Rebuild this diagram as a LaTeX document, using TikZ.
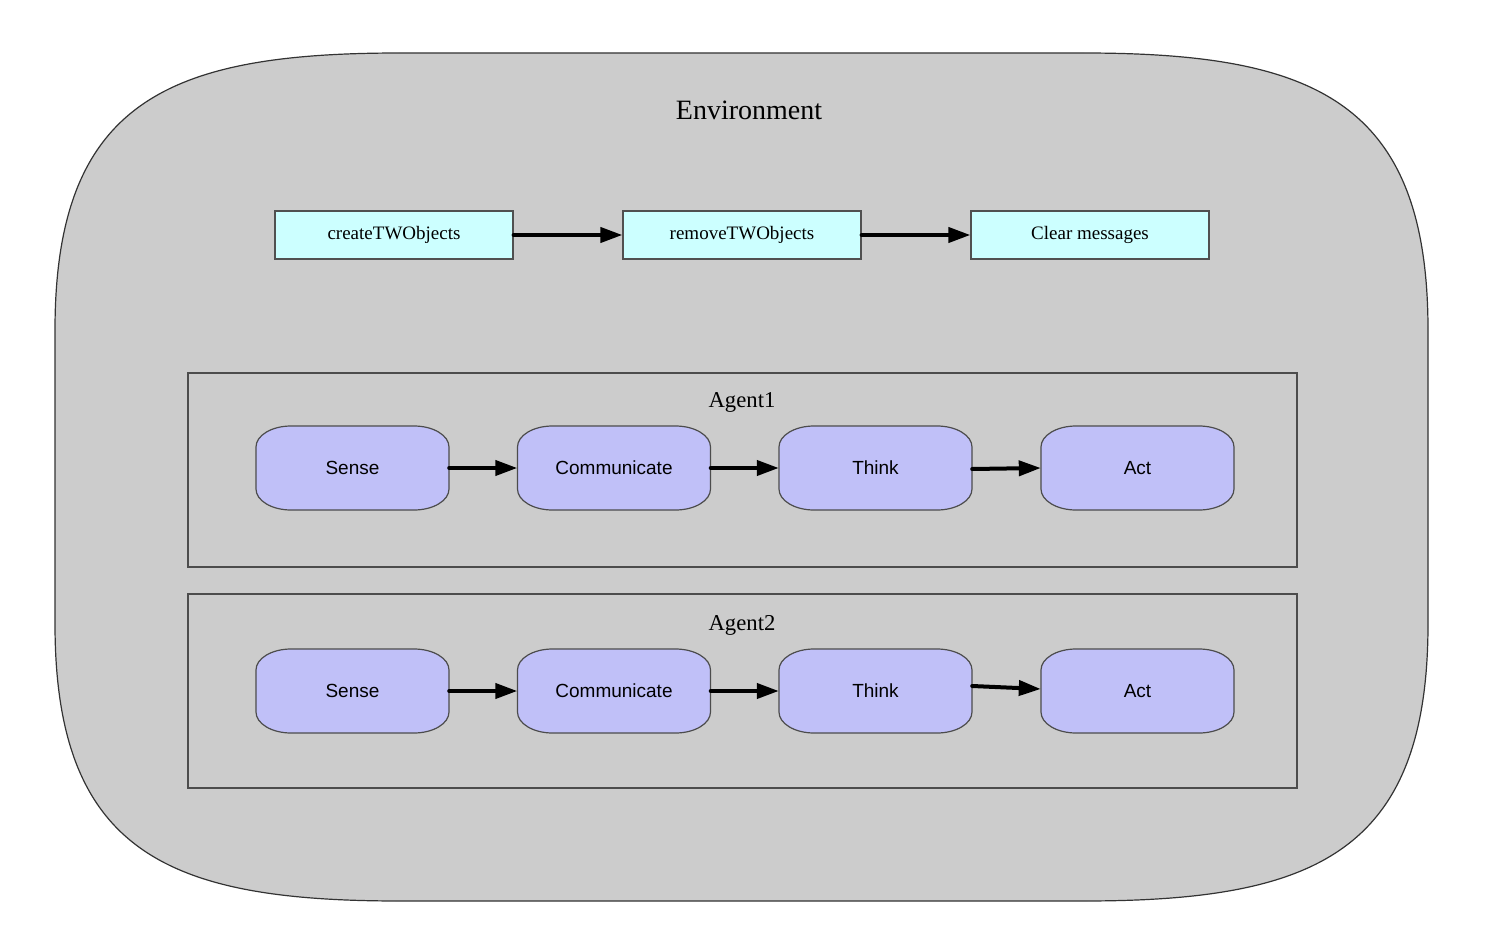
\documentclass[tikz,border=0pt]{standalone}
\usepackage{fontspec}
\setmainfont{Liberation Serif}
\newfontfamily\helv{Liberation Sans}
\usetikzlibrary{arrows.meta}
\definecolor{envgray}{RGB}{204,204,204}
\definecolor{cyanbox}{RGB}{204,255,255}
\definecolor{lav}{RGB}{192,192,248}
\definecolor{edge}{RGB}{80,80,80}
\tikzset{
  envline/.style={draw=black!80, line width=1.2pt, fill=envgray},
  topbox/.style={draw=edge, line width=1.2pt, fill=cyanbox, minimum width=238pt, minimum height=48pt, inner sep=0pt, font=\fontsize{19}{22}\selectfont},
  agentbox/.style={draw=black!70, line width=1.2pt, minimum width=1109pt, minimum height=194pt, inner sep=0pt},
  agentlabel/.style={font=\fontsize{22.7}{26}\selectfont, inner sep=0pt},
  roundshape/.style={draw=black!70, line width=1.2pt, fill=lav},
  roundtext/.style={minimum width=193pt, minimum height=84pt, inner sep=0pt, font=\helv\fontsize{19}{22}\selectfont},
  arr/.style={draw=black, line width=4pt, line cap=round, -{Triangle[length=22pt,width=15pt]}}
}
\newcommand\rnode[4]{%
  \begin{scope}[shift={(#2,#3)}]
    \path[roundshape] (-61.5,-42) -- (61.5,-42) .. controls (80.8,-42) and (96.5,-32.6) .. (96.5,-21) -- (96.5,21) .. controls (96.5,32.6) and (80.8,42) .. (61.5,42) -- (-61.5,42) .. controls (-80.8,42) and (-96.5,32.6) .. (-96.5,21) -- (-96.5,-21) .. controls (-96.5,-32.6) and (-80.8,-42) .. (-61.5,-42) -- cycle;
  \end{scope}
  \node[roundtext] (#1) at (#2,#3) {#4};%
}
\begin{document}
\begin{tikzpicture}[x=1pt,y=-1pt]
\useasboundingbox[fill=white] (0,0) rectangle (1486,936);
\path[envline] (55,330) .. controls (55,100) and (170,53) .. (400,53) -- (1083,53) .. controls (1313,53) and (1428,100) .. (1428,330) -- (1428,624) .. controls (1428,854) and (1313,901) .. (1083,901) -- (400,901) .. controls (170,901) and (55,854) .. (55,624) -- cycle;
\node[font=\fontsize{28}{33}\selectfont, inner sep=0pt] (env) at (749,110) {Environment};

\node[topbox] (create) at (394,235) {createTWObjects};
\node[topbox] (remove) at (742,235) {removeTWObjects};
\node[topbox] (clear) at (1090,235) {Clear messages};
\draw[arr] (create) -- (remove);
\draw[arr] (remove) -- (clear);

\node[agentbox] (agent1) at (742.5,470) {};
\node[agentlabel] (agent1lbl) at (742,402) {Agent1};
\node[agentbox] (agent2) at (742.5,691) {};
\node[agentlabel] (agent2lbl) at (742,625) {Agent2};

\rnode{sense1}{352.5}{468}{Sense}
\rnode{comm1}{614}{468}{Communicate}
\rnode{think1}{875.5}{468}{Think}
\rnode{act1}{1137.5}{468}{Act}
\draw[arr] (sense1) -- (comm1);
\draw[arr] (comm1) -- (think1);
\draw[arr] ([yshift=-1pt]think1.east) -- (act1.west);

\rnode{sense2}{352.5}{691}{Sense}
\rnode{comm2}{614}{691}{Communicate}
\rnode{think2}{875.5}{691}{Think}
\rnode{act2}{1137.5}{691}{Act}
\draw[arr] (sense2) -- (comm2);
\draw[arr] (comm2) -- (think2);
\draw[arr] ([yshift=5pt]think2.east) -- ([yshift=2pt]act2.west);
\end{tikzpicture}
\end{document}
